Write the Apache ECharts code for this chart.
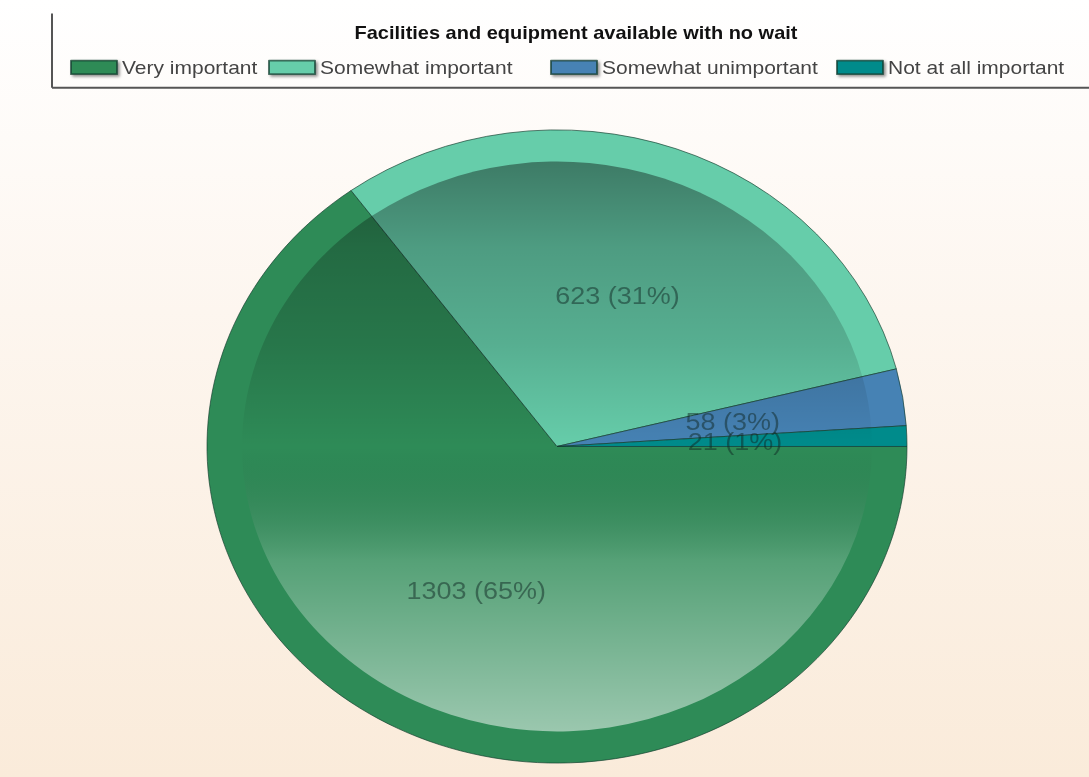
<!DOCTYPE html>
<html>
<head>
<meta charset="utf-8">
<script src="https://cdn.jsdelivr.net/npm/echarts@6/dist/echarts.min.js"></script>
<style>
  html, body { margin: 0; padding: 0; }
  #wrap {
    width: 1089px; height: 777px; overflow: hidden; position: relative;
    background: linear-gradient(#ffffff 0%, #fdf6ef 40%, #faebda 100%);
  }
  /* the original picture is stretched sideways, so the chart is squeezed vertically */
  #chart {
    width: 1089px; height: 859px; position: absolute; left: 0; top: 0;
    transform: scaleY(0.90454); transform-origin: 0 0;
  }
</style>
</head>
<body>
<div id="wrap"><div id="chart"></div></div>
<script>
const titleText = "Facilities and equipment available with no wait";
const categories = ["Very important", "Somewhat important", "Somewhat unimportant", "Not at all important"];
const counts = [1303, 623, 58, 21];
const sliceColors = ["#2e8b57", "#66cdaa", "#4682b4", "#008b8b"];
const legendLeft = [70, 268, 550, 836];

const cx = 557, cy = 493.6, R = 350, rInner = 315;

// shading over the inner disc: darker at the top, lighter at the bottom
const shade = {
  type: "linear", global: true,
  x: 0, y: cy - rInner, x2: 0, y2: cy + rInner,
  colorStops: [
    { offset: 0, color: "rgba(0,0,0,0.40)" },
    { offset: 0.15, color: "rgba(0,0,0,0.24)" },
    { offset: 0.32, color: "rgba(0,0,0,0.15)" },
    { offset: 0.5, color: "rgba(0,0,0,0)" },
    { offset: 0.7, color: "rgba(255,255,255,0.19)" },
    { offset: 1, color: "rgba(255,255,255,0.52)" }
  ]
};

const pieData = categories.map((name, i) => ({
  name: name, value: counts[i], itemStyle: { color: sliceColors[i] }
}));
const shadeData = categories.map((name, i) => ({
  name: name, value: counts[i], itemStyle: { color: shade }
}));

const legends = categories.map((name, i) => ({
  data: [name],
  left: legendLeft[i],
  top: 64,
  icon: "rect",
  itemWidth: 46,
  itemHeight: 15,
  selectedMode: false,
  padding: 0,
  itemStyle: { shadowBlur: 3, shadowColor: "rgba(0,0,0,0.45)", shadowOffsetX: 2, shadowOffsetY: 2 },
  textStyle: { fontFamily: "Liberation Sans", fontSize: 21, color: "#444" }
}));

const chart = echarts.init(document.getElementById("chart"), null, { renderer: "svg" });
chart.setOption({
  animation: false,
  backgroundColor: "transparent",
  title: {
    text: titleText,
    left: 576,
    top: 26,
    padding: 0,
    textAlign: "center",
    textStyle: { fontFamily: "Liberation Sans", fontWeight: "bold", fontSize: 20, color: "#111" }
  },
  legend: legends,
  graphic: [
    { type: "line", shape: { x1: 52, y1: 15, x2: 52, y2: 97 }, style: { stroke: "#555", lineWidth: 2 } },
    { type: "line", shape: { x1: 52, y1: 97, x2: 1089, y2: 97 }, style: { stroke: "#555", lineWidth: 2 } }
  ],
  series: [
    {
      type: "pie",
      center: [cx, cy],
      radius: [0, R],
      startAngle: 0,
      clockwise: true,
      silent: true,
      z: 2,
      label: { show: false },
      labelLine: { show: false },
      itemStyle: { borderColor: "rgba(20,60,45,0.7)", borderWidth: 1 },
      data: pieData
    },
    {
      type: "pie",
      center: [cx, cy],
      radius: [0, rInner],
      startAngle: 0,
      clockwise: true,
      silent: true,
      z: 3,
      label: { show: false },
      labelLine: { show: false },
      itemStyle: { borderWidth: 0 },
      data: shadeData
    },
    {
      type: "pie",
      center: [cx, cy],
      radius: [0, R],
      startAngle: 0,
      clockwise: true,
      silent: true,
      z: 4,
      percentPrecision: 0,
      avoidLabelOverlap: false,
      labelLayout: { hideOverlap: false },
      itemStyle: { color: "rgba(0,0,0,0)", borderWidth: 0 },
      labelLine: { show: false },
      label: {
        show: true,
        position: "inside",
        formatter: "{c} ({d}%)",
        fontFamily: "Liberation Sans",
        fontSize: 27,
        color: "rgba(15,40,35,0.5)"
      },
      data: categories.map((name, i) => ({ name: name, value: counts[i] }))
    }
  ]
});
</script>
</body>
</html>
